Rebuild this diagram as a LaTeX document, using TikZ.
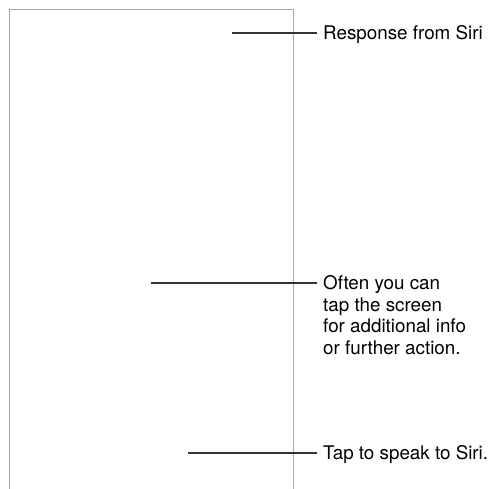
\documentclass[tikz,border=0pt]{standalone}
\usepackage{fontspec}
\setmainfont{TeX Gyre Heros}
\begin{document}
\begin{tikzpicture}[x=1pt, y=-1pt, line join=round,
		font=\fontsize{18.8}{21.7}\selectfont,
		frame/.style={draw=black!35, line width=1pt},
		lead/.style={draw=black!80, line width=1.3pt},
		note/.style={anchor=base west, align=left, inner sep=0pt}]
			\useasboundingbox (0,0) rectangle (501,488);
			\draw[frame] (9,490)--(9,9)--(293,9)--(293,490);
			\path (232,33) coordinate (A) (151,283) coordinate (B) (188,453) coordinate (C);
			% base of a multi-line note is its last line
			\node[note] (a) at (323,39.5) {Response from Siri};
			\node[note] (b) at (323,354.6) {Often you can\\tap the screen\\for additional info\\or further action.};
			\node[note] (c) at (323,459.5) {Tap to speak to Siri.};
			\foreach \x/\y in {A/a,B/b,C/c} \draw[lead] (\x)--([xshift=-6pt]\x-|\y.west);
		\end{tikzpicture}
\end{document}
